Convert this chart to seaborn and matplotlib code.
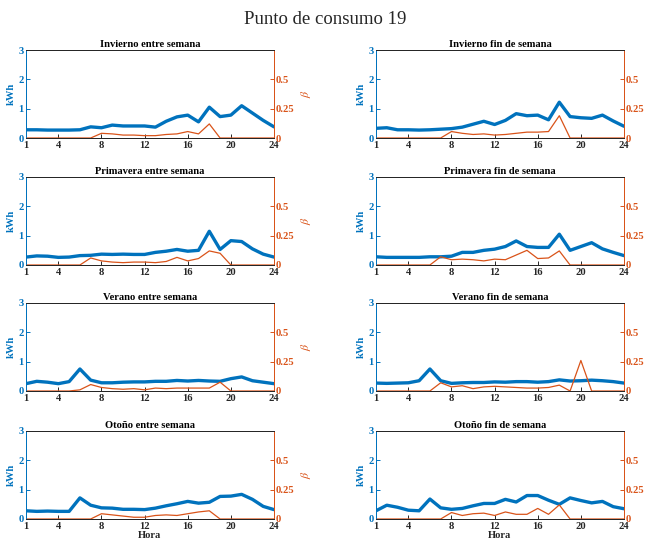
import numpy as np
import pandas as pd
import matplotlib
matplotlib.use("Agg")
import matplotlib.pyplot as plt
import seaborn as sns

hours = list(range(1, 25))
titles = ["Invierno entre semana", "Invierno fin de semana",
          "Primavera entre semana", "Primavera fin de semana",
          "Verano entre semana", "Verano fin de semana",
          "Otoño entre semana", "Otoño fin de semana"]

# Hourly consumption (kWh)
kwh_inv_es = [.28, .28, .27, .27, .27, .28, .38, .35, .44, .41, .41, .41, .37, .57, .72, .78, .55, 1.05, .73, .78, 1.10, .85, .60, .38]
kwh_inv_fs = [.33, .35, .28, .28, .27, .28, .30, .32, .37, .47, .57, .46, .60, .83, .76, .78, .62, 1.22, .73, .69, .67, .78, .58, .40]
kwh_pri_es = [.27, .31, .30, .26, .27, .32, .33, .37, .36, .37, .36, .36, .43, .47, .53, .47, .50, 1.15, .53, .83, .80, .55, .37, .27]
kwh_pri_fs = [.28, .26, .26, .26, .26, .28, .28, .30, .43, .43, .50, .54, .63, .82, .63, .60, .60, 1.05, .50, .63, .76, .55, .43, .32]
kwh_ver_es = [.25, .33, .30, .25, .32, .75, .37, .28, .28, .30, .31, .31, .33, .33, .36, .34, .36, .34, .33, .42, .48, .35, .30, .25]
kwh_ver_fs = [.27, .26, .27, .28, .35, .75, .35, .26, .28, .29, .29, .31, .30, .32, .32, .30, .32, .38, .34, .35, .37, .35, .32, .27]
kwh_oto_es = [.28, .26, .27, .26, .26, .72, .47, .38, .37, .33, .33, .32, .37, .45, .52, .60, .54, .57, .77, .78, .84, .67, .43, .32]
kwh_oto_fs = [.28, .47, .40, .30, .28, .68, .38, .33, .36, .45, .53, .53, .67, .58, .80, .80, .64, .50, .72, .63, .55, .60, .42, .35]

# Hourly beta coefficient
beta_inv_es = [0, 0, 0, 0, 0, 0, 0, .040, .035, .025, .025, .020, .020, .030, .035, .055, .035, .120, 0, 0, 0, 0, 0, 0]
beta_inv_fs = [0, 0, 0, 0, 0, 0, 0, .055, .040, .030, .035, .025, .030, .040, .050, .050, .055, .190, 0, 0, 0, 0, 0, 0]
beta_pri_es = [0, 0, 0, 0, 0, 0, .060, .035, .025, .020, .025, .025, .020, .030, .065, .035, .055, .120, .100, 0, 0, 0, 0, 0]
beta_pri_fs = [0, 0, 0, 0, 0, 0, .070, .045, .050, .045, .035, .050, .045, .085, .125, .055, .060, .120, 0, 0, 0, 0, 0, 0]
beta_ver_es = [0, 0, 0, 0, 0, .010, .055, .030, .020, .015, .020, .010, .025, .020, .025, .025, .025, .025, .075, 0, 0, 0, 0, 0]
beta_ver_fs = [0, 0, 0, 0, 0, 0, .070, .035, .045, .020, .035, .040, .035, .030, .025, .025, .030, .050, 0, .260, 0, 0, 0, 0]
beta_oto_es = [0, 0, 0, 0, 0, 0, 0, .045, .035, .025, .015, .015, .030, .035, .030, .045, .060, .070, 0, 0, 0, 0, 0, 0]
beta_oto_fs = [0, 0, 0, 0, 0, 0, 0, .055, .030, .045, .050, .030, .060, .040, .040, .090, .040, .120, 0, 0, 0, 0, 0, 0]

kwh_series = [kwh_inv_es, kwh_inv_fs, kwh_pri_es, kwh_pri_fs,
              kwh_ver_es, kwh_ver_fs, kwh_oto_es, kwh_oto_fs]
beta_series = [beta_inv_es, beta_inv_fs, beta_pri_es, beta_pri_fs,
               beta_ver_es, beta_ver_fs, beta_oto_es, beta_oto_fs]

x_ticks = [1, 4, 8, 12, 16, 20, 24]
kwh_ticks = [0, 1, 2, 3]
beta_ticks = [0, 0.25, 0.5]

sns.set_style("ticks")
plt.rcParams["font.family"] = ["Liberation Serif", "DejaVu Serif"]
plt.rcParams["mathtext.fontset"] = "stix"

BLUE = "#0072BD"
ORANGE = "#D95319"
DARK = "#262626"

W, H = 650, 542
fig = plt.figure(figsize=(W / 100, H / 100), dpi=100)

col_left = [26, 376]
col_width = 248
row_top = [50, 177, 303, 431]
ax_height = 88
fs = 7.6

for i, title in enumerate(titles):
    r, c = divmod(i, 2)
    l = col_left[c]
    t = row_top[r]
    ax = fig.add_axes([l / W, 1 - (t + ax_height) / H, col_width / W, ax_height / H])
    df = pd.DataFrame({"Hora": hours, "kWh": kwh_series[i], "beta": beta_series[i]})

    sns.lineplot(data=df, x="Hora", y="kWh", ax=ax, color=BLUE, linewidth=2.4)
    ax.set_xlim(1, 24)
    ax.set_ylim(0, 3)
    ax.set_xticks(x_ticks)
    ax.set_yticks(kwh_ticks)
    ax.tick_params(axis="both", direction="in", length=3, width=0.7, labelsize=fs)
    ax.tick_params(axis="x", colors=DARK, pad=2.5)
    ax.tick_params(axis="y", colors=BLUE, pad=1.5)
    for lab in ax.get_xticklabels() + ax.get_yticklabels():
        lab.set_fontweight("bold")
    ax.set_ylabel("kWh", color=BLUE, fontsize=fs, fontweight="bold", labelpad=2)
    if r == 3:
        ax.set_xlabel("Hora", fontsize=fs, fontweight="bold", labelpad=0, color=DARK)
    else:
        ax.set_xlabel("")
    ax.set_title(title, fontsize=fs, fontweight="bold", pad=2, color="black")

    ax2 = ax.twinx()
    sns.lineplot(data=df, x="Hora", y="beta", ax=ax2, color=ORANGE, linewidth=0.9)
    ax2.set_ylim(0, 0.75)
    ax2.set_yticks(beta_ticks)
    ax2.set_yticklabels(["0", "0.25", "0.5"])
    ax2.tick_params(axis="y", direction="in", length=3, width=0.7, colors=ORANGE, labelsize=fs, pad=1.5)
    for lab in ax2.get_yticklabels():
        lab.set_fontweight("bold")
    ax2.set_ylabel(r"$\beta$", color=ORANGE, fontsize=fs + 1, labelpad=3)

    for a in (ax, ax2):
        for s in a.spines.values():
            s.set_linewidth(0.7)
            s.set_visible(True)
        a.spines["top"].set_color(DARK)
        a.spines["bottom"].set_color(DARK)
        a.spines["left"].set_color(BLUE)
        a.spines["right"].set_color(ORANGE)

fig.text(0.5, 1 - 20 / H, "Punto de consumo 19", ha="center", va="center", fontsize=13.5)

fig.savefig("out.png", dpi=100, facecolor="white")
